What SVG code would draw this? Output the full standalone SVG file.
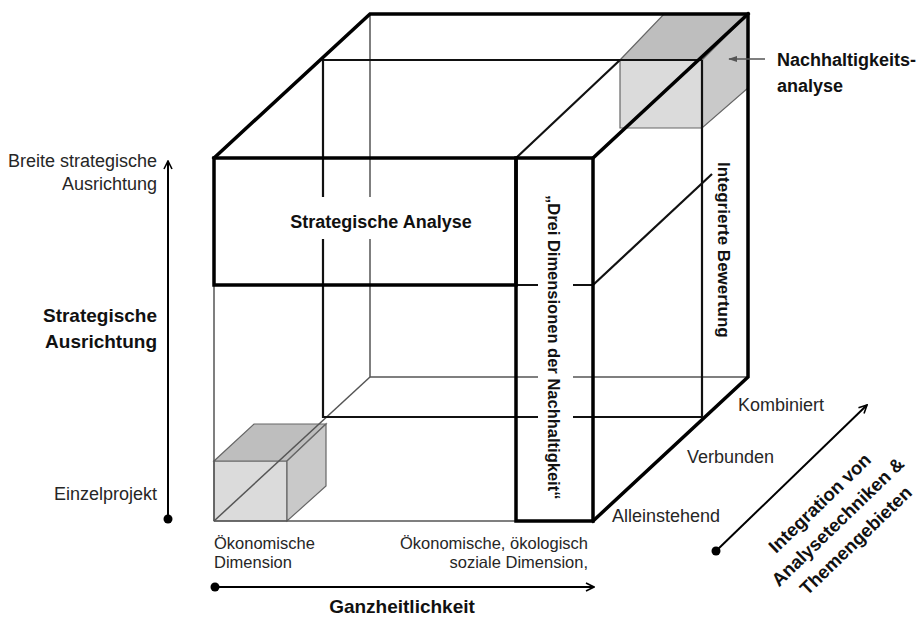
<svg xmlns="http://www.w3.org/2000/svg" width="922" height="619" viewBox="0 0 922 619">
<defs>
<style>
.thick{stroke:#000;stroke-width:3.5;fill:none;stroke-linejoin:miter;stroke-linecap:square}
.med{stroke:#111;stroke-width:2.2;fill:none}
.thin{stroke:#555;stroke-width:1.5;fill:none}
.edge{stroke:#666;stroke-width:1.2}
.topf{fill:#bebebe}
.frontf{fill:#dbdbdb}
.rightf{fill:#c9c9c9}
.axis{stroke:#000;stroke-width:2;fill:none}
.lbl{font-family:"Liberation Sans",Arial,sans-serif;font-size:18px;fill:#262626}
.lbls{font-family:"Liberation Sans",Arial,sans-serif;font-size:16.5px;fill:#262626}
.bold{font-family:"Liberation Sans",Arial,sans-serif;font-weight:bold;fill:#111}
</style>
<marker id="openArrow" viewBox="0 0 10 10" refX="9" refY="5" markerWidth="10" markerHeight="10" markerUnits="userSpaceOnUse" orient="auto">
<path d="M1,1 L9,5 L1,9" fill="none" stroke="#000" stroke-width="1.6"/>
</marker>
<marker id="grayArrow" viewBox="0 0 10 10" refX="9" refY="5" markerWidth="9" markerHeight="9" markerUnits="userSpaceOnUse" orient="auto">
<path d="M0,1.5 L10,5 L0,8.5 Z" fill="#555"/>
</marker>
</defs>
<rect width="922" height="619" fill="#fff"/>

<g id="shaded-boxes">
<g id="nachhaltigkeitsanalyse-box">
<polygon class="topf edge" points="620,60 702,60 748,14 664,14"/>
<polygon class="frontf edge" points="620,60 702,60 702,128 620,128"/>
<polygon class="rightf edge" points="702,60 748,14 748,88 702,128"/>
</g>
<g id="einzel-box">
<polygon class="frontf edge" points="214,461 287,461 287,521 214,521"/>
<polygon class="topf edge" points="214,461 287,461 326,424 254,424"/>
<polygon class="rightf edge" points="287,461 326,424 326,486 287,521"/>
</g>
</g>

<g id="connectors">
<g id="thin-lines">
<path class="thin" d="M370,14 V197 M370,239 V377"/>
<path class="thin" d="M370,377 H538 M573,377 H748"/>
<path class="thin" d="M214,285 V521 M214,521 H516"/>
<path class="thin" d="M214,521 L370,377"/>
</g>
<g id="medium-lines">
<path class="med" d="M323,60 V197 M323,239 V418"/>
<path class="med" d="M323,60 H702"/>
<path class="med" d="M702,60 V417"/>
<path class="med" d="M323,417 H538 M573,417 H702"/>
<path class="med" d="M516,158 L620,60"/>
<path class="med" d="M593,285 L712,174"/>
<path class="med" d="M516,285 H538 M573,285 H593"/>
</g>
<g id="thick-lines">
<path class="thick" d="M214,158 L370,14 L748,14 L748,377 L593,521"/>
<path class="thick" d="M593,158 L748,14"/>
</g>
</g>

<g id="strategische-analyse">
<rect class="thick" x="214" y="158" width="302" height="127"/>
<text class="bold" x="381" y="228" font-size="18" text-anchor="middle">Strategische Analyse</text>
</g>

<g id="drei-dimensionen">
<rect class="thick" x="516" y="158" width="77" height="363"/>
<text class="bold" font-size="16.5" transform="translate(548,195) rotate(90)">„Drei Dimensionen der Nachhaltigkeit“</text>
</g>

<g id="integrierte-bewertung">
<text class="bold" font-size="17" transform="translate(718,162) rotate(90)">Integrierte Bewertung</text>
</g>

<g id="nachhaltigkeitsanalyse-label">
<line x1="765" y1="59" x2="729" y2="59" stroke="#555" stroke-width="1.5" marker-end="url(#grayArrow)"/>
<text class="bold" x="777" y="66" font-size="18">Nachhaltigkeits-</text>
<text class="bold" x="777" y="92" font-size="18">analyse</text>
</g>

<g id="axis-strategisch">
<line class="axis" x1="168" y1="519" x2="168" y2="161" marker-end="url(#openArrow)"/>
<circle cx="168" cy="519" r="4.5" fill="#000"/>
<text class="lbl" x="157" y="167" text-anchor="end">Breite strategische</text>
<text class="lbl" x="157" y="190" text-anchor="end">Ausrichtung</text>
<text class="bold" x="157" y="322" font-size="19" text-anchor="end">Strategische</text>
<text class="bold" x="157" y="348" font-size="19" text-anchor="end">Ausrichtung</text>
<text class="lbl" x="157" y="500" text-anchor="end">Einzelprojekt</text>
</g>

<g id="axis-ganzheitlichkeit">
<line class="axis" x1="215" y1="587" x2="594" y2="587" marker-end="url(#openArrow)"/>
<circle cx="215" cy="587" r="4.5" fill="#000"/>
<text class="lbls" x="214" y="549">Ökonomische</text>
<text class="lbls" x="214" y="568">Dimension</text>
<text class="lbls" x="588" y="549" text-anchor="end">Ökonomische, ökologisch</text>
<text class="lbls" x="588" y="568" text-anchor="end">soziale Dimension,</text>
<text class="bold" x="402" y="613" font-size="19" text-anchor="middle">Ganzheitlichkeit</text>
</g>

<g id="axis-integration">
<line class="axis" x1="716" y1="551" x2="867" y2="405" marker-end="url(#openArrow)"/>
<circle cx="716" cy="551" r="4.5" fill="#000"/>
<text class="lbl" x="738" y="411">Kombiniert</text>
<text class="lbl" x="687" y="463">Verbunden</text>
<text class="lbl" x="612" y="522">Alleinstehend</text>
<g transform="translate(838,522) rotate(-44)">
<text class="bold" x="0" y="-20" font-size="18.5" text-anchor="middle">Integration von</text>
<text class="bold" x="0" y="6" font-size="18.5" text-anchor="middle">Analysetechniken &amp;</text>
<text class="bold" x="0" y="32" font-size="18.5" text-anchor="middle">Themengebieten</text>
</g>
</g>
</svg>
